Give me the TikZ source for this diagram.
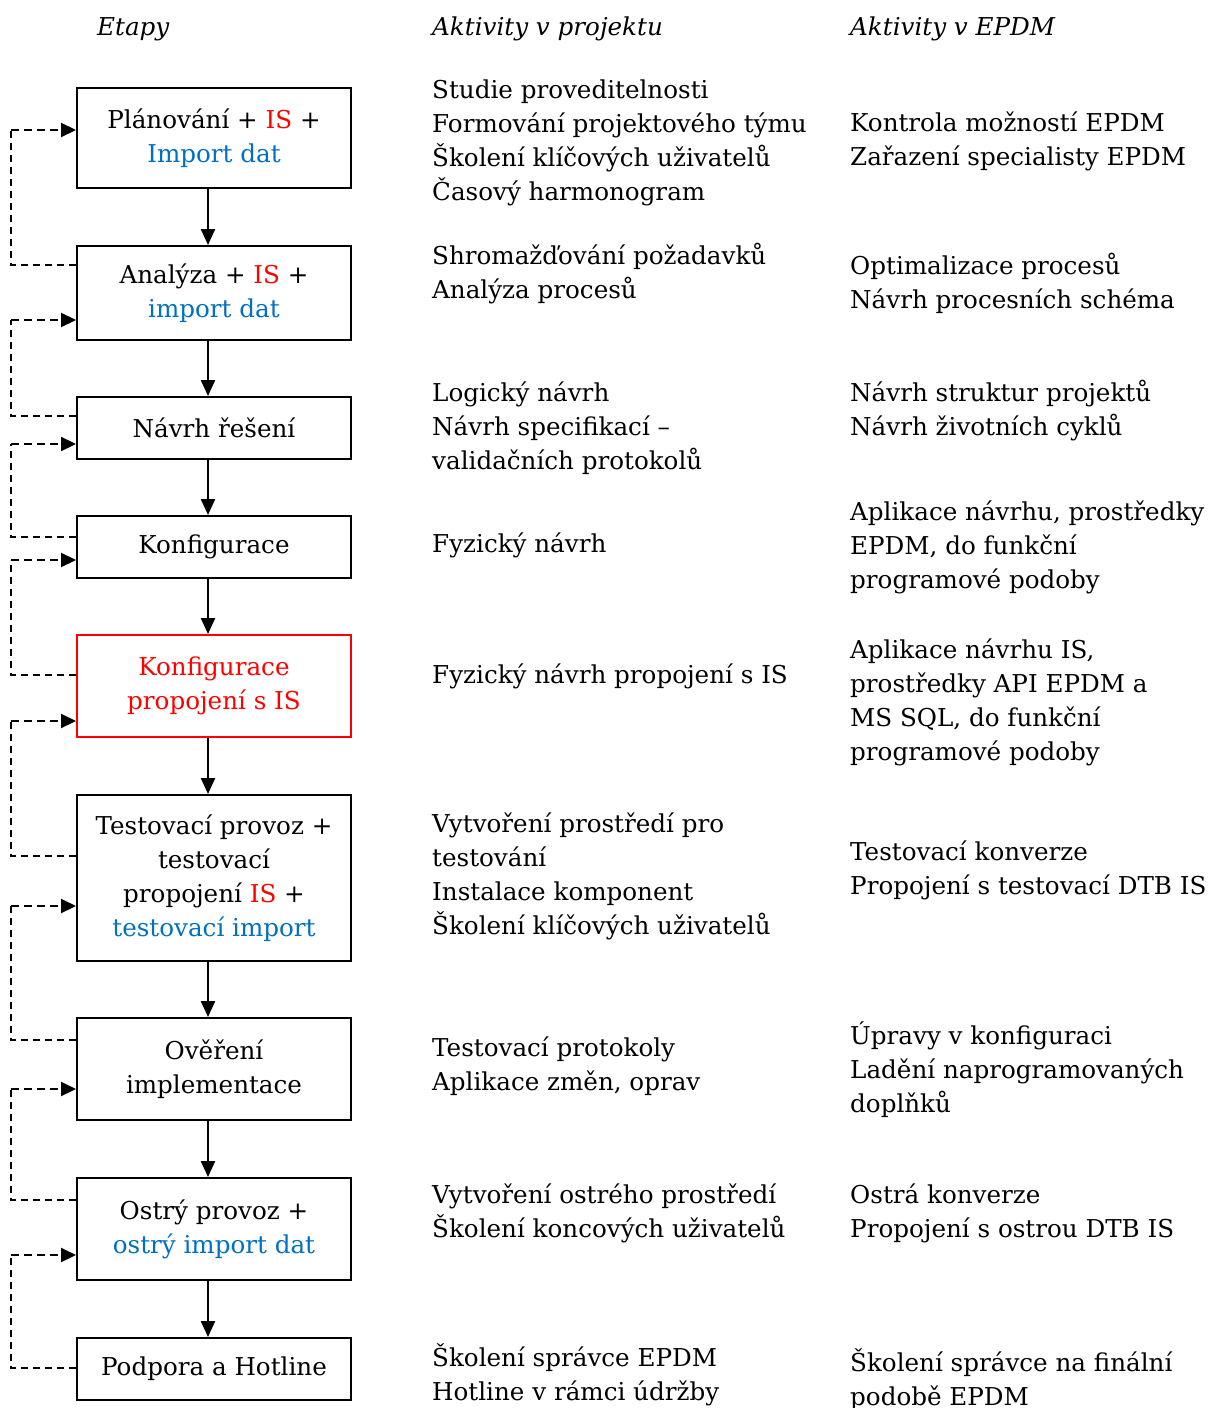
\documentclass[tikz,border=0pt]{standalone}
\usepackage{fontspec}
\setmainfont{DejaVu Serif}
\usetikzlibrary{positioning, arrows.meta}
\definecolor{isred}{RGB}{255,0,0}
\definecolor{impblue}{RGB}{0,112,192}
\newcommand{\fs}{\fontsize{24.6}{34}\selectfont}
\newcommand{\isr}[1]{\textcolor{isred}{#1}}
\newcommand{\imb}[1]{\textcolor{impblue}{#1}}

\begin{document}
\begin{tikzpicture}[
    x=1pt, y=-1pt,
    stage/.style={rectangle, draw, line width=2pt, minimum width=274pt, align=center, inner sep=0pt, font=\fs},
    redstage/.style={stage, draw=isred, text=isred},
    note/.style={anchor=west, align=left, inner sep=0pt, font=\fs},
    head/.style={anchor=west, inner sep=0pt, font=\fs\itshape},
    flow/.style={-{Triangle[length=16pt, width=14pt]}, line width=2.4pt},
    backthin/.style={dash pattern=on 7pt off 5pt, line width=1.4pt},
    backarrow/.style={-{Triangle[length=15pt, width=14pt]}, dash pattern=on 8pt off 5pt, line width=2.2pt}
]
\useasboundingbox (0,0) rectangle (1208,1408);

% Headings
\node[head] (h1) at (97,29) {Etapy};
\node[head] (h2) at (432,29) {Aktivity v projektu};
\node[head] (h3) at (850,29) {Aktivity v EPDM};

% Stages
\node[stage, minimum height=100pt] (b1) at (214,138) {Plánování + \isr{IS} +\\ \imb{Import dat}};
\node[stage, minimum height=94pt] (b2) at (214,293) {Analýza + \isr{IS} +\\ \imb{import dat}};
\node[stage, minimum height=62pt] (b3) at (214,428) {Návrh řešení};
\node[stage, minimum height=62pt] (b4) at (214,547) {Konfigurace};
\node[redstage, minimum height=102pt] (b5) at (214,686) {Konfigurace\\ propojení s IS};
\node[stage, minimum height=166pt] (b6) at (214,878) {Testovací provoz +\\ testovací\\ propojení \isr{IS} +\\ \imb{testovací import}};
\node[stage, minimum height=102pt] (b7) at (214,1069) {Ověření\\ implementace};
\node[stage, minimum height=102pt] (b8) at (214,1229) {Ostrý provoz +\\ \imb{ostrý import dat}};
\node[stage, minimum height=62pt] (b9) at (214,1369) {Podpora a Hotline};

% Activities in the project
\node[note] (p1) at (432,143) {Studie proveditelnosti\\ Formování projektového týmu\\ Školení klíčových uživatelů\\ Časový harmonogram};
\node[note] (p2) at (432,274) {Shromažďování požadavků\\ Analýza procesů};
\node[note] (p3) at (432,428) {Logický návrh\\ Návrh specifikací –\\ validačních protokolů};
\node[note] (p4) at (432,545) {Fyzický návrh};
\node[note] (p5) at (432,676) {Fyzický návrh propojení s IS};
\node[note] (p6) at (432,876) {Vytvoření prostředí pro\\ testování\\ Instalace komponent\\ Školení klíčových uživatelů};
\node[note] (p7) at (432,1066) {Testovací protokoly\\ Aplikace změn, oprav};
\node[note] (p8) at (432,1213) {Vytvoření ostrého prostředí\\ Školení koncových uživatelů};
\node[note] (p9) at (432,1375) {Školení správce EPDM\\ Hotline v rámci údržby};

% Activities in EPDM
\node[note] (e1) at (850,141) {Kontrola možností EPDM\\ Zařazení specialisty EPDM};
\node[note] (e2) at (850,283) {Optimalizace procesů\\ Návrh procesních schéma};
\node[note] (e3) at (850,411) {Návrh struktur projektů\\ Návrh životních cyklů};
\node[note] (e4) at (850,547) {Aplikace návrhu, prostředky\\ EPDM, do funkční\\ programové podoby};
\node[note] (e5) at (850,702) {Aplikace návrhu IS,\\ prostředky API EPDM a\\ MS SQL, do funkční\\ programové podoby};
\node[note] (e6) at (850,870) {Testovací konverze\\ Propojení s testovací DTB IS};
\node[note] (e7) at (850,1070) {Úpravy v konfiguraci\\ Ladění naprogramovaných\\ doplňků};
\node[note] (e8) at (850,1213) {Ostrá konverze\\ Propojení s ostrou DTB IS};
\node[note] (e9) at (850,1380) {Školení správce na finální\\ podobě EPDM};

% Flow between stages
\foreach \a/\b in {b1/b2, b2/b3, b3/b4, b4/b5, b5/b6, b6/b7, b7/b8, b8/b9}
  \draw[flow] ([xshift=-6pt]\a.south) -- ([xshift=-6pt]\b.north);

% Feedback loops
\foreach \a/\b/\yo/\yi in {b1/b2/28/8, b2/b3/12/-27, b3/b4/10/-16, b4/b5/11/-13,
                           b5/b6/22/-35, b6/b7/29/-28, b7/b8/29/-20, b8/b9/1/-26} {
  \draw[backthin] ([yshift=\yo pt]\b.west) -| ([xshift=-65pt, yshift=\yi pt]\a.west) coordinate (c\a);
  \draw[backarrow] (c\a) -- ([yshift=\yi pt]\a.west);
}

\end{tikzpicture}
\end{document}
